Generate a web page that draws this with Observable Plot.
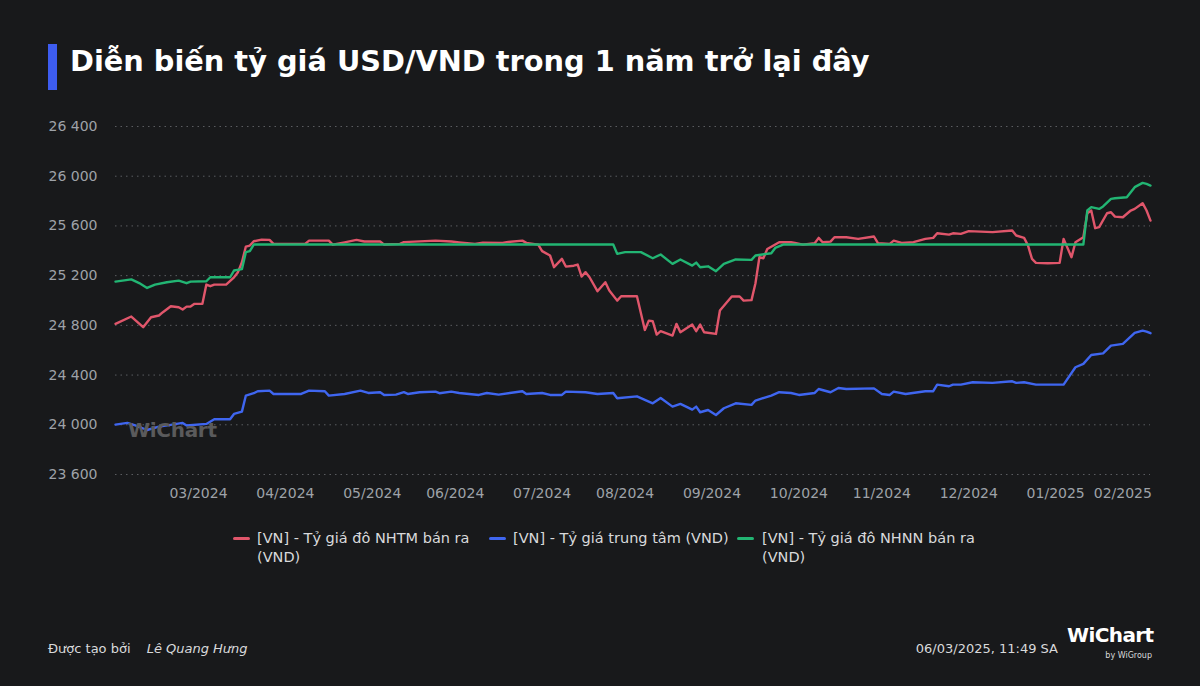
<!DOCTYPE html>
<html>
<head>
<meta charset="utf-8">
<script src="https://cdn.jsdelivr.net/npm/d3@7"></script>
<script src="https://cdn.jsdelivr.net/npm/@observablehq/plot@0.6"></script>
<style>
  html, body { margin: 0; padding: 0; background: #18191b; }
  body { width: 1200px; height: 686px; position: relative; overflow: hidden; font-family: "DejaVu Sans", sans-serif; }
  #bar { position: absolute; left: 48px; top: 44px; width: 9px; height: 46px; background: #3d5cf0; }
  #title { position: absolute; left: 70px; top: 44px; font-size: 28.8px; font-weight: bold; color: #ffffff; white-space: nowrap; }
  #chart { position: absolute; left: 0; top: 100px; }
  #wm { position: absolute; left: 128px; top: 418px; font-size: 20px; font-weight: bold; color: #5a5a5b; letter-spacing: -0.3px; }
  .leg { position: absolute; top: 529px; font-size: 14.5px; line-height: 19px; color: #d8d9db; }
  .sw { position: absolute; width: 17px; height: 3px; border-radius: 2px; top: 537px; }
  #foot1 { position: absolute; left: 48px; top: 641px; font-size: 13px; color: #d8d9db; white-space: nowrap; }
  #foot1 i { margin-left: 12px; }
  #foot2 { position: absolute; right: 142px; top: 641px; font-size: 13px; color: #d8d9db; white-space: nowrap; }
  #logo { position: absolute; left: 1067px; top: 623px; font-size: 20px; font-weight: bold; color: #fff; letter-spacing: -0.6px; }
  #logo2 { position: absolute; right: 48px; top: 651px; font-size: 8px; color: #d8d9db; }
</style>
</head>
<body>
<div id="bar"></div>
<div id="title">Diễn biến tỷ giá USD/VND trong 1 năm trở lại đây</div>
<div id="chart"></div>
<div id="wm">WiChart</div>
<div class="sw" style="left:233px;background:#e0566b"></div>
<div class="leg" style="left:257px">[VN] - Tỷ giá đô NHTM bán ra<br>(VND)</div>
<div class="sw" style="left:489px;background:#3f66f0"></div>
<div class="leg" style="left:513px">[VN] - Tỷ giá trung tâm (VND)</div>
<div class="sw" style="left:737px;background:#22b573"></div>
<div class="leg" style="left:762px">[VN] - Tỷ giá đô NHNN bán ra<br>(VND)</div>
<div id="foot1">Được tạo bởi <i>Lê Quang Hưng</i></div>
<div id="foot2">06/03/2025, 11:49 SA</div>
<div id="logo">WiChart</div>
<div id="logo2">by WiGroup</div>
<script>
// x = trading-day index since start of series
const monthTickDays = [21, 43, 65, 86, 108, 129, 151, 173, 194, 216, 238, 255];
const monthTickLabels = ["03/2024","04/2024","05/2024","06/2024","07/2024","08/2024","09/2024","10/2024","11/2024","12/2024","01/2025","02/2025"];
const yTicks = [23600, 24000, 24400, 24800, 25200, 25600, 26000, 26400];

const seriesNames = ["[VN] - Tỷ giá đô NHTM bán ra (VND)", "[VN] - Tỷ giá trung tâm (VND)", "[VN] - Tỷ giá đô NHNN bán ra (VND)"];
const seriesColors = ["#e0566b", "#3f66f0", "#22b573"];

const nhtmSell = [[0,24812],[4,24871],[7,24785],[9,24865],[11,24879],[12,24906],[14,24954],[16,24946],[17,24927],[18,24951],[19,24951],[20,24973],[22,24973],[23,25128],[24,25115],[25,25128],[28,25128],[30,25187],[31,25228],[32,25308],[33,25434],[34,25442],[35,25477],[37,25490],[39,25488],[40,25456],[48,25456],[49,25482],[54,25482],[55,25450],[58,25468],[61,25488],[63,25475],[67,25475],[68,25450],[72,25456],[73,25470],[81,25482],[85,25475],[87,25468],[91,25456],[93,25466],[98,25464],[99,25470],[103,25482],[104,25464],[107,25450],[108,25397],[110,25362],[111,25268],[113,25335],[114,25273],[116,25280],[117,25289],[118,25193],[119,25228],[120,25187],[122,25075],[124,25147],[125,25080],[127,24999],[128,25034],[132,25034],[134,24763],[135,24838],[136,24833],[137,24726],[138,24753],[141,24718],[142,24812],[143,24745],[146,24806],[147,24753],[148,24806],[149,24745],[152,24731],[153,24919],[156,25032],[158,25032],[159,24999],[161,25003],[162,25139],[163,25348],[164,25340],[165,25415],[168,25469],[171,25469],[172,25464],[174,25450],[177,25461],[178,25504],[179,25469],[181,25474],[182,25509],[185,25509],[188,25496],[192,25515],[193,25461],[196,25456],[197,25482],[199,25464],[202,25469],[205,25496],[207,25504],[208,25541],[211,25530],[212,25541],[214,25536],[216,25558],[222,25550],[227,25563],[228,25523],[230,25504],[231,25442],[232,25335],[233,25303],[236,25300],[239,25303],[240,25496],[242,25348],[243,25469],[245,25509],[246,25702],[247,25724],[248,25582],[249,25590],[251,25702],[252,25710],[253,25675],[255,25670],[257,25724],[258,25737],[260,25783],[261,25724],[262,25643]];

const centralRate = [[0,24001],[3,24015],[5,23995],[8,23958],[11,23985],[14,23999],[17,24015],[18,23994],[23,24007],[25,24044],[29,24044],[30,24087],[32,24106],[33,24235],[35,24254],[36,24270],[39,24275],[40,24248],[47,24248],[49,24275],[53,24270],[54,24235],[58,24248],[62,24275],[64,24256],[67,24262],[68,24240],[71,24243],[73,24262],[74,24248],[77,24262],[81,24267],[82,24254],[85,24267],[87,24256],[92,24240],[94,24256],[97,24243],[103,24270],[104,24248],[108,24256],[110,24240],[113,24240],[114,24267],[119,24262],[122,24248],[126,24256],[127,24213],[132,24229],[136,24173],[138,24216],[141,24146],[143,24168],[146,24122],[147,24146],[148,24101],[150,24119],[152,24079],[154,24133],[157,24173],[161,24160],[162,24195],[166,24235],[168,24262],[171,24256],[173,24240],[177,24256],[178,24288],[181,24262],[183,24296],[185,24288],[192,24293],[194,24248],[196,24240],[197,24267],[200,24248],[205,24270],[207,24270],[208,24323],[211,24310],[212,24323],[214,24323],[217,24342],[222,24337],[227,24350],[228,24337],[230,24342],[233,24323],[240,24323],[243,24463],[245,24490],[247,24562],[250,24575],[252,24637],[255,24651],[258,24739],[260,24758],[261,24750],[262,24737]];

const nhnnSell = [[0,25152],[4,25170],[6,25140],[8,25101],[10,25128],[13,25147],[16,25160],[18,25139],[19,25152],[23,25155],[24,25187],[29,25187],[30,25241],[32,25252],[33,25389],[34,25397],[35,25450],[126,25450],[127,25375],[129,25389],[133,25389],[136,25340],[138,25370],[141,25295],[143,25330],[146,25281],[147,25305],[148,25268],[150,25275],[152,25236],[154,25295],[157,25330],[161,25327],[162,25362],[166,25380],[167,25423],[169,25450],[245,25450],[246,25724],[247,25751],[249,25737],[250,25757],[252,25818],[253,25823],[256,25831],[258,25912],[260,25946],[261,25938],[262,25925]];

const table = [];
[nhtmSell, centralRate, nhnnSell].forEach((arr, k) => {
  arr.forEach(([d, v]) => table.push({day: d, value: v, series: seriesNames[k]}));
});

const labelByDay = new Map(monthTickDays.map((d, i) => [d, monthTickLabels[i]]));
const fmt = v => d3.format(",")(v).replace(",", " ");

const chart = Plot.plot({
  width: 1200,
  height: 420,
  marginLeft: 115,
  marginRight: 50,
  marginTop: 26,
  marginBottom: 46,
  style: { background: "transparent", fontFamily: "DejaVu Sans, sans-serif", fontSize: "14px", color: "#9ea2a8" },
  x: { domain: [0, 262] },
  y: { domain: [23600, 26400] },
  color: { domain: seriesNames, range: seriesColors },
  marks: [
    Plot.gridY(yTicks, { stroke: "#5a5c60", strokeOpacity: 1, strokeDasharray: "1.5,4" }),
    Plot.axisY({ ticks: yTicks, tickSize: 0, tickPadding: 18, tickFormat: fmt, label: null, fontSize: 14 }),
    Plot.axisX({ ticks: monthTickDays, tickSize: 0, tickPadding: 14, tickFormat: d => labelByDay.get(d), label: null, fontSize: 14 }),
    Plot.line(table, { x: "day", y: "value", z: "series", stroke: "series", strokeWidth: 2.4, strokeLinejoin: "round", strokeLinecap: "round" })
  ]
});
document.getElementById("chart").appendChild(chart);
</script>
</body>
</html>
